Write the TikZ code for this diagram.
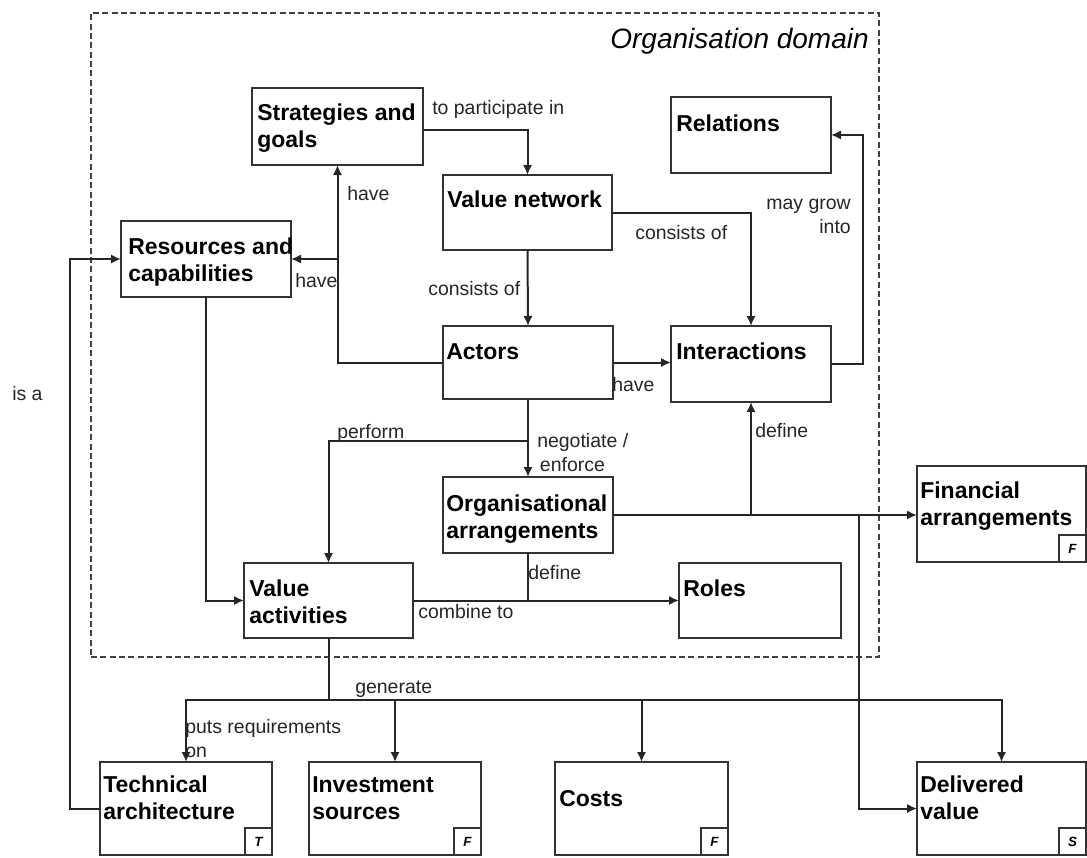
\documentclass[tikz,border=0pt]{standalone}
\usepackage{fontspec}
\setmainfont{Liberation Sans}
\usetikzlibrary{arrows.meta,calc}

% a box given by its top-left and bottom-right corners (in px units)
\newcommand\mybox[5]{%
  \pgfmathsetmacro\bw{(#4-#2)*0.75}%
  \pgfmathsetmacro\bh{(#5-#3)*0.75}%
  \node[box, anchor=north west, minimum width=\bw pt, minimum height=\bh pt] (#1) at (#2,#3) {};}

\begin{document}
\begin{tikzpicture}[x=0.75pt,y=-0.75pt,
  line/.style={draw=black!85, line width=1.5pt},
  arr/.style={line, -{Latex[length=7.5pt,width=7pt]}},
  box/.style={draw=black!80, line width=1.5pt, fill=white, inner sep=0pt, outer sep=0pt},
  frame/.style={draw=black!75, line width=1.1pt, dash pattern=on 4.5pt off 2.5pt, inner sep=0pt, outer sep=0pt},
  % multi-line texts are placed by the baseline of their last line
  title/.style={font=\fontsize{17.25}{20.25}\selectfont\bfseries, align=left, anchor=base west, inner sep=0pt},
  lab/.style={font=\fontsize{14.6}{17.5}\selectfont, text=black!85, align=left, anchor=base west, inner sep=0pt},
  tag/.style={draw=black!80, line width=1pt, minimum size=20.25pt, inner sep=0pt, outer sep=0pt,
    font=\fontsize{10}{11}\selectfont\bfseries\itshape, anchor=south east},
]
\useasboundingbox (0,0) rectangle (1087,857);

% organisation domain frame
\pgfmathsetmacro\fw{(879-91)*0.75}
\pgfmathsetmacro\fh{(657-13)*0.75}
\node[frame, anchor=north west, minimum width=\fw pt, minimum height=\fh pt] (dom) at (91,13) {};
\node[font=\fontsize{21}{24}\selectfont\itshape, anchor=base east, inner sep=0pt] (domt) at (869,48) {Organisation domain};

% boxes
\mybox{sg}{252}{88}{423}{165}
\mybox{vn}{443}{175}{612}{250}
\mybox{re}{671}{97}{831}{173}
\mybox{rc}{121}{221}{291}{297}
\mybox{ac}{443}{326}{613}{399}
\mybox{in}{671}{326}{831}{402}
\mybox{oa}{443}{477}{613}{553}
\mybox{va}{244}{563}{413}{638}
\mybox{ro}{679}{563}{841}{638}
\mybox{fa}{917}{466}{1086}{562}
\mybox{ta}{100}{762}{272}{855}
\mybox{is}{309}{762}{481}{855}
\mybox{co}{555}{762}{728}{855}
\mybox{dv}{917}{762}{1086}{855}

% box titles
\node[title] (sg-t) at (257,147) {Strategies and\\goals};
\node[title] (vn-t) at (447,207) {Value network};
\node[title] (re-t) at (676,131) {Relations};
\node[title] (rc-t) at (128,281) {Resources and\\capabilities};
\node[title] (ac-t) at (446,359) {Actors};
\node[title] (in-t) at (676,359) {Interactions};
\node[title] (oa-t) at (446,538) {Organisational\\arrangements};
\node[title] (va-t) at (249,623) {Value\\activities};
\node[title] (ro-t) at (683,596) {Roles};
\node[title] (fa-t) at (920,525) {Financial\\arrangements};
\node[title] (ta-t) at (103,819) {Technical\\architecture};
\node[title] (is-t) at (312,819) {Investment\\sources};
\node[title] (co-t) at (559,806) {Costs};
\node[title] (dv-t) at (920,819) {Delivered\\value};

% corner tags
\node[tag] (fa-g) at (fa.south east) {F};
\node[tag] (ta-g) at (ta.south east) {T};
\node[tag] (is-g) at (is.south east) {F};
\node[tag] (co-g) at (co.south east) {F};
\node[tag] (dv-g) at (dv.south east) {S};

% connectors
\draw[arr] (sg.east |- 0,130) -| (vn.north);
\draw[arr] (ac.west) -| (sg.south);
\draw[arr] (sg.south |- rc.east) -- (rc.east);
\draw[arr] (vn.south) -- (ac.north);
\draw[arr] (vn.east) -| (in.north);
\draw[arr] (ac.east) -- (ac.east -| in.west);
\draw[arr] (in.east) -- ++(32,0) |- (re.east);
\draw[arr] (ac.south) -- (oa.north);
\draw[arr] (ac.south |- 0,441) -| (va.north);
\draw[arr] (rc.south) |- (va.west);
\draw[arr] (va.east) -- (va.east -| ro.west);
\draw[line] (oa.south) -- (oa.south |- va.east);
\draw[arr] (oa.east) -| (in.south);
\draw[arr] (oa.east) -- (oa.east -| fa.west);
\draw[arr] (oa.east -| 859,0) |- (dv.west);
\coordinate (gen) at (va.south |- 0,700);
\draw[line] (va.south) -- (gen);
\draw[arr] (gen) -| (ta.north);
\draw[arr] (gen) -| (is.north);
\draw[arr] (gen) -| (co.north);
\draw[arr] (gen) -| (dv.north);
\draw[arr] (ta.west) -- ++(-30,0) |- (rc.west);

% connector labels
\node[lab] (l1) at (432,114) {to participate in};
\node[lab] (l2) at (347,200) {have};
\node[lab] (l3) at (295,287) {have};
\node[lab] (l4) at (428,295) {consists of};
\node[lab] (l5) at (635,239) {consists of};
\node[lab] (l6) at (612,391) {have};
\node[lab, align=right, anchor=base east] (l7) at (851,233) {may grow\\into};
\node[lab] (l8) at (337,438) {perform};
\node[lab] (l9) at (537,471) {negotiate /\\\hspace*{2pt}enforce};
\node[lab] (l10) at (755,437) {define};
\node[lab] (l11) at (528,579) {define};
\node[lab] (l12) at (418,618) {combine to};
\node[lab] (l13) at (355,693) {generate};
\node[lab] (l14) at (185,757) {puts requirements\\on};
\node[lab] (l15) at (12,400) {is a};
\end{tikzpicture}
\end{document}
